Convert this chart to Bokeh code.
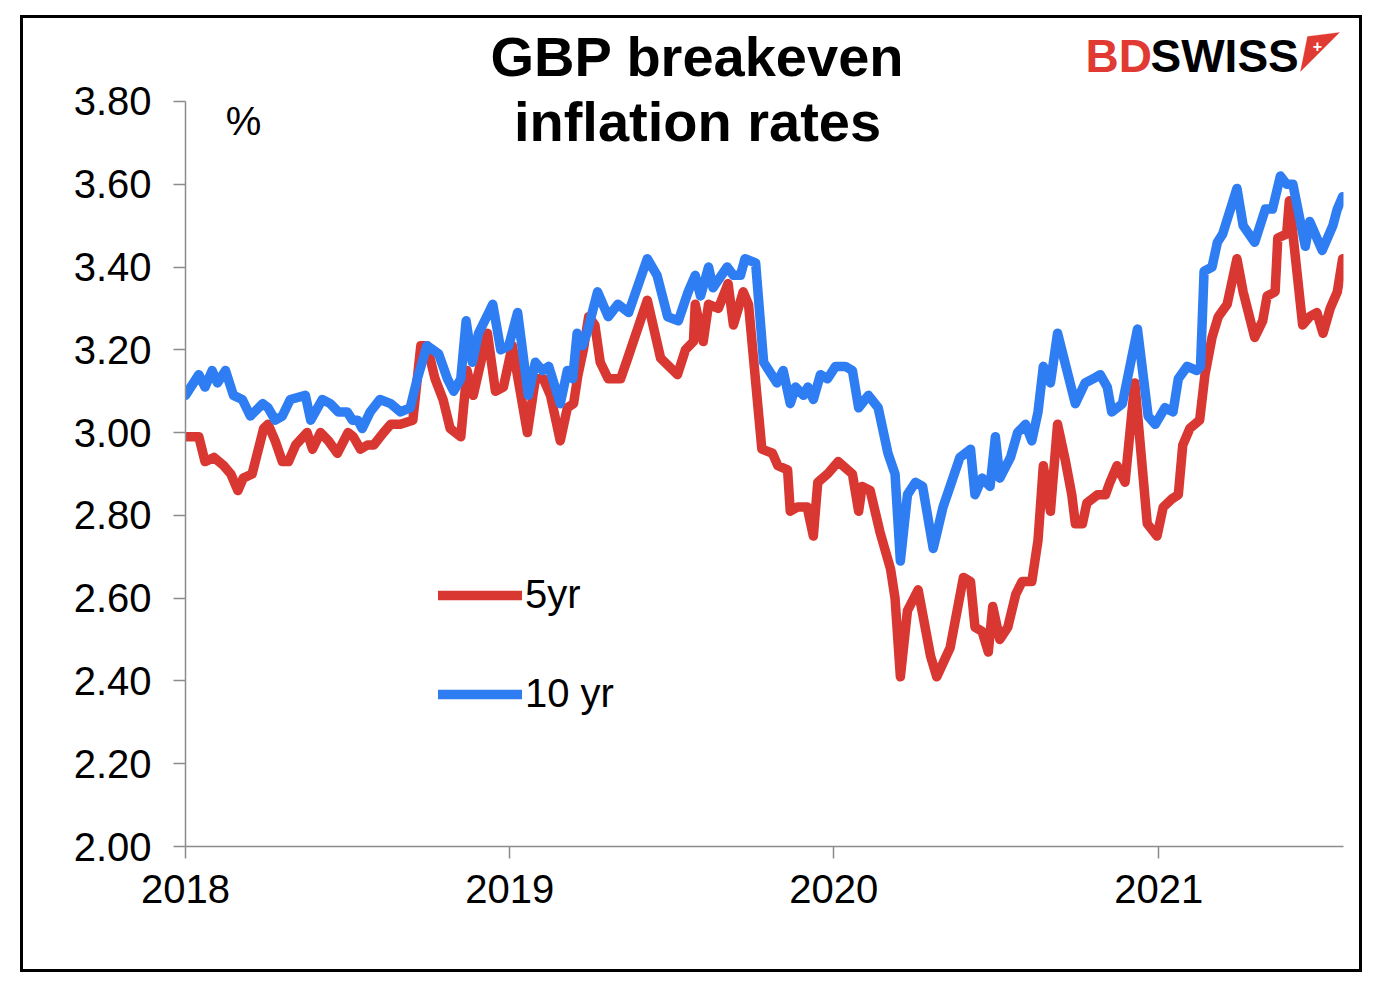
import pandas as pd
from bokeh.plotting import figure
from bokeh.models import (FixedTicker, DatetimeTickFormatter, NumeralTickFormatter, Label,
                          Legend, LegendItem, PolyAnnotation, Range1d)
from bokeh.layouts import column
from bokeh.embed import file_html
from bokeh.resources import INLINE

# ---------------- data ----------------
dates_10yr = [
    "2018-01-01", "2018-01-16", "2018-01-23", "2018-01-31", "2018-02-06", "2018-02-15", "2018-02-24",
    "2018-03-06", "2018-03-15", "2018-03-29", "2018-04-04", "2018-04-12", "2018-04-20", "2018-04-29",
    "2018-05-16", "2018-05-22", "2018-06-04", "2018-06-13", "2018-06-22", "2018-07-02", "2018-07-08",
    "2018-07-14", "2018-07-19", "2018-07-28", "2018-08-08", "2018-08-20", "2018-08-31", "2018-09-11",
    "2018-09-19", "2018-09-30", "2018-10-13", "2018-10-23", "2018-10-30", "2018-11-07", "2018-11-13",
    "2018-11-20", "2018-11-27", "2018-12-13", "2018-12-22", "2018-12-31", "2019-01-10", "2019-01-22",
    "2019-01-30", "2019-02-07", "2019-02-14", "2019-02-27", "2019-03-07", "2019-03-13", "2019-03-18",
    "2019-03-24", "2019-03-29", "2019-04-10", "2019-04-22", "2019-05-03", "2019-05-15", "2019-06-05",
    "2019-06-16", "2019-06-28", "2019-07-10", "2019-07-21", "2019-07-29", "2019-08-04", "2019-08-13",
    "2019-08-18", "2019-09-03", "2019-09-10", "2019-09-18", "2019-09-23", "2019-10-05", "2019-10-14",
    "2019-10-29", "2019-11-05", "2019-11-13", "2019-11-19", "2019-11-28", "2019-12-03", "2019-12-09",
    "2019-12-17", "2019-12-25", "2020-01-03", "2020-01-14", "2020-01-22", "2020-01-29", "2020-02-09",
    "2020-02-20", "2020-03-02", "2020-03-10", "2020-03-16", "2020-03-24", "2020-04-02", "2020-04-10",
    "2020-04-22", "2020-05-03", "2020-05-11", "2020-05-22", "2020-06-03", "2020-06-08", "2020-06-16",
    "2020-06-25", "2020-07-01", "2020-07-06", "2020-07-18", "2020-07-26", "2020-08-04", "2020-08-11",
    "2020-08-18", "2020-08-24", "2020-09-01", "2020-09-09", "2020-09-29", "2020-10-10", "2020-10-19",
    "2020-10-27", "2020-11-04", "2020-11-09", "2020-11-21", "2020-12-08", "2020-12-20", "2020-12-28",
    "2021-01-08", "2021-01-17", "2021-01-23", "2021-02-02", "2021-02-13", "2021-02-17", "2021-02-21",
    "2021-03-02", "2021-03-08", "2021-03-14", "2021-03-30", "2021-04-06", "2021-04-19", "2021-05-01",
    "2021-05-09", "2021-05-18", "2021-05-25", "2021-06-01", "2021-06-15", "2021-06-20", "2021-06-24",
    "2021-07-04", "2021-07-16", "2021-07-21", "2021-07-27",
]
values_10yr = [
    3.09, 3.14, 3.11, 3.15, 3.12, 3.15, 3.09,
    3.08, 3.04, 3.07, 3.06, 3.03, 3.04, 3.08,
    3.09, 3.03, 3.08, 3.07, 3.05, 3.05, 3.03,
    3.03, 3.01, 3.05, 3.08, 3.07, 3.05, 3.06,
    3.13, 3.21, 3.19, 3.13, 3.10, 3.13, 3.27,
    3.17, 3.24, 3.31, 3.20, 3.21, 3.29, 3.09,
    3.17, 3.15, 3.16, 3.07, 3.15, 3.13, 3.24,
    3.21, 3.24, 3.34, 3.28, 3.31, 3.29, 3.42,
    3.38, 3.28, 3.27, 3.34, 3.38, 3.33, 3.40,
    3.35, 3.40, 3.38, 3.38, 3.42, 3.41, 3.17,
    3.12, 3.15, 3.07, 3.11, 3.09, 3.11, 3.08,
    3.14, 3.13, 3.16, 3.16, 3.15, 3.06, 3.09,
    3.06, 2.95, 2.90, 2.69, 2.85, 2.88, 2.87,
    2.72, 2.82, 2.87, 2.94, 2.96, 2.85, 2.89,
    2.87, 2.99, 2.89, 2.94, 3.00, 3.02, 2.98,
    3.05, 3.16, 3.12, 3.24, 3.07, 3.12, 3.13,
    3.14, 3.11, 3.05, 3.07, 3.25, 3.04, 3.02,
    3.06, 3.05, 3.13, 3.16, 3.15, 3.16, 3.39,
    3.40, 3.46, 3.48, 3.59, 3.50, 3.46, 3.54,
    3.54, 3.62, 3.60, 3.60, 3.45, 3.51, 3.49,
    3.44, 3.50, 3.54, 3.57,
]

dates_5yr = [
    "2018-01-01", "2018-01-16", "2018-01-23", "2018-02-02", "2018-02-13", "2018-02-21", "2018-03-01",
    "2018-03-07", "2018-03-17", "2018-03-30", "2018-04-04", "2018-04-12", "2018-04-20", "2018-04-27",
    "2018-05-05", "2018-05-18", "2018-05-24", "2018-06-02", "2018-06-11", "2018-06-21", "2018-07-03",
    "2018-07-09", "2018-07-17", "2018-07-25", "2018-08-01", "2018-08-12", "2018-08-20", "2018-08-31",
    "2018-09-14", "2018-09-23", "2018-09-30", "2018-10-09", "2018-10-18", "2018-10-26", "2018-11-07",
    "2018-11-14", "2018-11-21", "2018-12-07", "2018-12-16", "2018-12-25", "2019-01-04", "2019-01-21",
    "2019-01-30", "2019-02-08", "2019-02-16", "2019-02-27", "2019-03-07", "2019-03-14", "2019-03-19",
    "2019-03-25", "2019-03-31", "2019-04-07", "2019-04-13", "2019-04-22", "2019-05-06", "2019-05-14",
    "2019-06-05", "2019-06-20", "2019-07-09", "2019-07-18", "2019-07-27", "2019-07-29", "2019-08-07",
    "2019-08-13", "2019-08-24", "2019-09-04", "2019-09-10", "2019-09-21", "2019-09-27", "2019-10-12",
    "2019-10-24", "2019-10-30", "2019-11-10", "2019-11-13", "2019-11-21", "2019-12-02", "2019-12-09",
    "2019-12-14", "2019-12-25", "2020-01-06", "2020-01-22", "2020-01-29", "2020-02-02", "2020-02-11",
    "2020-02-22", "2020-03-05", "2020-03-10", "2020-03-16", "2020-03-24", "2020-04-05", "2020-04-19",
    "2020-04-26", "2020-05-11", "2020-05-26", "2020-06-03", "2020-06-08", "2020-06-16", "2020-06-23",
    "2020-06-28", "2020-07-06", "2020-07-15", "2020-07-24", "2020-07-31", "2020-08-11", "2020-08-18",
    "2020-08-24", "2020-09-01", "2020-09-09", "2020-09-18", "2020-09-25", "2020-09-29", "2020-10-07",
    "2020-10-12", "2020-10-24", "2020-11-02", "2020-11-07", "2020-11-15", "2020-11-24", "2020-12-05",
    "2020-12-19", "2020-12-30", "2021-01-06", "2021-01-16", "2021-01-23", "2021-01-28", "2021-02-05",
    "2021-02-16", "2021-02-22", "2021-03-02", "2021-03-09", "2021-03-19", "2021-03-30", "2021-04-06",
    "2021-04-19", "2021-04-28", "2021-05-03", "2021-05-12", "2021-05-15", "2021-05-25", "2021-05-28",
    "2021-06-12", "2021-06-20", "2021-06-28", "2021-07-05", "2021-07-13", "2021-07-21", "2021-07-27",
]
values_5yr = [
    2.99, 2.99, 2.93, 2.94, 2.92, 2.90, 2.86,
    2.89, 2.90, 3.01, 3.02, 2.98, 2.93, 2.93,
    2.97, 3.00, 2.96, 3.00, 2.98, 2.95, 3.00,
    2.99, 2.96, 2.97, 2.97, 3.00, 3.02, 3.02,
    3.03, 3.21, 3.21, 3.13, 3.08, 3.01, 2.99,
    3.15, 3.09, 3.24, 3.10, 3.11, 3.21, 3.00,
    3.13, 3.13, 3.09, 2.98, 3.06, 3.07, 3.14,
    3.20, 3.28, 3.26, 3.17, 3.13, 3.13, 3.18,
    3.32, 3.18, 3.14, 3.20, 3.22, 3.31, 3.22,
    3.31, 3.30, 3.36, 3.26, 3.34, 3.31, 2.96,
    2.95, 2.92, 2.91, 2.81, 2.82, 2.82, 2.75,
    2.88, 2.90, 2.93, 2.90, 2.81, 2.87, 2.86,
    2.76, 2.67, 2.60, 2.41, 2.57, 2.62, 2.46,
    2.41, 2.48, 2.65, 2.64, 2.53, 2.52, 2.47,
    2.58, 2.50, 2.53, 2.61, 2.64, 2.64, 2.74,
    2.92, 2.81, 3.02, 2.93, 2.85, 2.78, 2.78,
    2.83, 2.85, 2.85, 2.88, 2.92, 2.88, 3.12,
    2.78, 2.75, 2.82, 2.84, 2.85, 2.97, 3.01,
    3.03, 3.14, 3.23, 3.28, 3.31, 3.42, 3.34,
    3.23, 3.27, 3.33, 3.34, 3.47, 3.48, 3.56,
    3.26, 3.28, 3.29, 3.24, 3.30, 3.34, 3.42,
]

series_names = ["5yr", "10 yr"]
y_ticks = [2.0, 2.2, 2.4, 2.6, 2.8, 3.0, 3.2, 3.4, 3.6, 3.8]
x_tick_labels = ["2018", "2019", "2020", "2021"]
x_start, x_end = "2018-01-01", "2021-07-28"
title_lines = ["GBP breakeven", "inflation rates"]

# ---------------- styles ----------------
RED = "#D93731"
BLUE = "#2F7DF2"
LOGO_RED = "#E03A33"
AXIS_GREY = "#8C8C8C"
FONT = "Liberation Sans"
TXT = "40px"

W, H = 1336, 951
BOTTOM = 123
# frame extends to the top of the canvas so that titles are not clipped;
# the y axis itself is bounded to the tick range
px_per_unit = 413.9
y_top = y_ticks[0] + (H - BOTTOM) / px_per_unit

p = figure(width=W, height=H, x_axis_type="datetime",
           output_backend="svg", toolbar_location=None, title=None,
           x_range=Range1d(pd.Timestamp(x_start), pd.Timestamp(x_end)),
           y_range=Range1d(y_ticks[0], y_top),
           min_border_left=162, min_border_right=16, min_border_top=0, min_border_bottom=BOTTOM,
           background_fill_color="white", border_fill_color="white")
p.outline_line_color = None
p.xgrid.visible = False
p.ygrid.visible = False

r5 = p.line(pd.to_datetime(dates_5yr), values_5yr, line_color=RED, line_width=9.5,
            line_cap="round", line_join="round")
r10 = p.line(pd.to_datetime(dates_10yr), values_10yr, line_color=BLUE, line_width=9.5,
             line_cap="round", line_join="round")

# axes
p.yaxis.ticker = FixedTicker(ticks=y_ticks)
p.yaxis.formatter = NumeralTickFormatter(format="0.00")
p.yaxis.bounds = (y_ticks[0], y_ticks[-1])
x_ticks = [pd.Timestamp(f"{lab}-01-01").value // 10**6 for lab in x_tick_labels]
p.xaxis.ticker = FixedTicker(ticks=x_ticks)
p.xaxis.formatter = DatetimeTickFormatter(years="%Y", months="%Y", days="%Y", hours="%Y",
                                          minutes="%Y", seconds="%Y", milliseconds="%Y",
                                          microseconds="%Y", minsec="%Y", hourmin="%Y")
for ax in (p.xaxis[0], p.yaxis[0]):
    ax.axis_line_color = AXIS_GREY
    ax.axis_line_width = 1.5
    ax.major_tick_line_color = AXIS_GREY
    ax.major_tick_line_width = 1.5
    ax.major_tick_out = 12
    ax.major_tick_in = 0
    ax.minor_tick_line_color = None
    ax.major_label_text_font = FONT
    ax.major_label_text_font_size = TXT
    ax.major_label_text_color = "black"
p.yaxis.major_label_standoff = 22
p.xaxis.major_label_standoff = 16

# legend
legend = Legend(items=[LegendItem(label=series_names[0], renderers=[r5]),
                       LegendItem(label=series_names[1], renderers=[r10])],
                location=(253, 130), glyph_width=84, glyph_height=44, spacing=54,
                label_standoff=3, padding=0, margin=0, border_line_color=None,
                background_fill_alpha=0, label_text_font=FONT, label_text_font_size=TXT,
                label_text_color="black", label_height=44)
p.add_layout(legend)

# title + unit
for i, line in enumerate(title_lines):
    p.add_layout(Label(x=674, y=38 + 65 * i, x_units="canvas", y_units="canvas", text=line,
                       text_align="center", text_baseline="middle", text_font=FONT,
                       text_font_size="56px", text_font_style="bold", text_color="black"))
p.add_layout(Label(x=220, y=102, x_units="canvas", y_units="canvas", text="%",
                   text_align="center", text_baseline="middle", text_font=FONT,
                   text_font_size=TXT, text_color="black"))

# logo
p.add_layout(Label(x=1062, y=37, x_units="canvas", y_units="canvas", text="BD",
                   text_align="left", text_baseline="middle", text_font=FONT,
                   text_font_size="46px", text_font_style="bold", text_color=LOGO_RED))
p.add_layout(Label(x=1127, y=37, x_units="canvas", y_units="canvas", text="SWISS",
                   text_align="left", text_baseline="middle", text_font=FONT,
                   text_font_size="46px", text_font_style="bold", text_color="black"))
p.add_layout(PolyAnnotation(xs=[1284, 1316, 1277], ys=[18, 14, 53], xs_units="canvas",
                            ys_units="canvas", fill_color=LOGO_RED, fill_alpha=1,
                            line_color=LOGO_RED, line_width=1))
p.add_layout(Label(x=1294, y=27, x_units="canvas", y_units="canvas", text="+",
                   text_align="center", text_baseline="middle", text_font=FONT,
                   text_font_size="16px", text_font_style="bold", text_color="white"))

layout = column(p, styles={"margin-left": "20px", "margin-top": "15px",
                           "border": "3px solid black", "box-sizing": "content-box",
                           "width": f"{W}px", "height": f"{H}px"})
open("out.html", "w").write(file_html(layout, INLINE))
